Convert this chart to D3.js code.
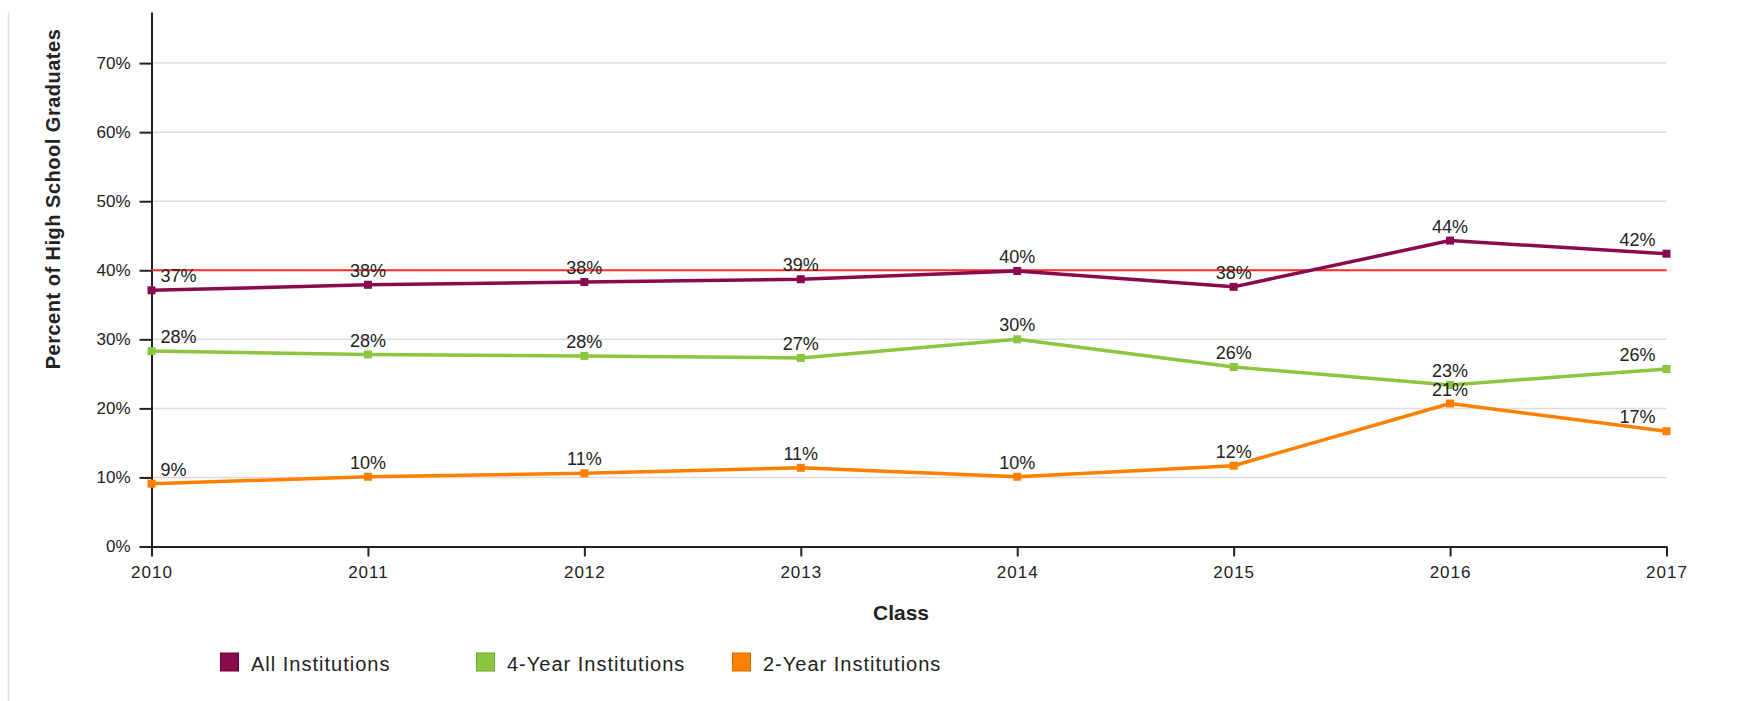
<!DOCTYPE html>
<html>
<head>
<meta charset="utf-8">
<script src="https://cdn.jsdelivr.net/npm/d3@7"></script>
<style>
body { margin: 0; background: #fff; }
text { font-family: "Liberation Sans", Arial, sans-serif; fill: #222; }
</style>
</head>
<body>
<script>
// Class years
const years = ["2010", "2011", "2012", "2013", "2014", "2015", "2016", "2017"];

// Percent of high school graduates
const allInst = [37.1, 37.9, 38.3, 38.7, 39.9, 37.6, 44.3, 42.4];
const fourYear = [28.3, 27.8, 27.6, 27.3, 30.0, 26.0, 23.4, 25.7];
const twoYear = [9.1, 10.1, 10.6, 11.4, 10.1, 11.7, 20.7, 16.7];

const seriesNames = ["All Institutions", "4-Year Institutions", "2-Year Institutions"];
const seriesColors = ["#8a0a4f", "#8cc63f", "#ff8000"];
const seriesBorders = ["#6a0038", "#6fa52c", "#d96a00"];

// reference line
const targetValue = 40;

const yTicks = [0, 10, 20, 30, 40, 50, 60, 70];

const width = 1748;
const height = 701;

const svg = d3.select("body")
.append("svg")
.attr("width", width)
.attr("height", height);

// light frame line on the left
svg.append("line")
.attr("x1", 8.5).attr("x2", 8.5)
.attr("y1", 12).attr("y2", height)
.attr("stroke", "#ddd")
.attr("stroke-width", 1.5);

const xScale = d3.scalePoint()
.domain(years)
.range([151.5, 1666.5]);

const yScale = d3.scaleLinear()
.domain([0, 77.4])
.range([546.5, 12]);

// gridlines
svg.append("g")
.selectAll("line")
.data(yTicks.filter(function(d){ return d > 0; }))
.enter()
.append("line")
.attr("x1", xScale.range()[0])
.attr("x2", xScale.range()[1])
.attr("y1", function(d){ return yScale(d); })
.attr("y2", function(d){ return yScale(d); })
.attr("stroke", "#dcdcdc")
.attr("stroke-width", 1.5);

// Y axis
const yAxis = d3.axisLeft(yScale)
.tickValues(yTicks)
.tickSize(12)
.tickSizeOuter(0)
.tickPadding(9)
.tickFormat(function(d){ return d + "%"; });

const gy = svg.append("g")
.attr("transform", "translate(" + xScale.range()[0] + ",0)")
.call(yAxis);
gy.selectAll("text").attr("font-size", "17px").attr("fill", "#222")
.attr("font-family", "Liberation Sans, Arial, sans-serif");
gy.selectAll("line, path").attr("stroke", "#222").attr("stroke-width", 2);

// X axis
const xAxis = d3.axisBottom(xScale)
.tickSize(10)
.tickSizeOuter(0)
.tickPadding(9);

const gx = svg.append("g")
.attr("transform", "translate(0," + yScale(0) + ")")
.call(xAxis);
gx.selectAll("text").attr("font-size", "17px").attr("fill", "#222")
.attr("letter-spacing", "1px")
.attr("font-family", "Liberation Sans, Arial, sans-serif");
gx.selectAll("line, path").attr("stroke", "#222").attr("stroke-width", 2);

// Axis titles
svg.append("text")
.attr("transform", "rotate(-90)")
.attr("x", -199)
.attr("y", 60)
.attr("text-anchor", "middle")
.attr("font-size", "20px")
.attr("letter-spacing", "0.5px")
.attr("font-weight", "bold")
.text("Percent of High School Graduates");

svg.append("text")
.attr("x", 901)
.attr("y", 620)
.attr("text-anchor", "middle")
.attr("font-size", "21px")
.attr("font-weight", "bold")
.text("Class");

// Target line
svg.append("line")
.attr("x1", xScale.range()[0])
.attr("x2", xScale.range()[1])
.attr("y1", yScale(targetValue))
.attr("y2", yScale(targetValue))
.attr("stroke", "#ff2a2a")
.attr("stroke-width", 2);

const series = [allInst, fourYear, twoYear];

const line = d3.line()
.x(function(d, i){ return xScale(years[i]); })
.y(function(d){ return yScale(d); });

series.forEach(function(values, s){
  svg.append("path")
  .datum(values)
  .attr("fill", "none")
  .attr("stroke", seriesColors[s])
  .attr("stroke-width", 3.5)
  .attr("stroke-linejoin", "round")
  .attr("d", line);

  svg.append("g")
  .selectAll("rect")
  .data(values)
  .enter()
  .append("rect")
  .attr("x", function(d, i){ return xScale(years[i]) - 4; })
  .attr("y", function(d){ return yScale(d) - 4; })
  .attr("width", 8)
  .attr("height", 8)
  .attr("fill", seriesColors[s]);
});

// Data labels
series.forEach(function(values, s){
  svg.append("g")
  .selectAll("text")
  .data(values)
  .enter()
  .append("text")
  .attr("x", function(d, i){
    const x = xScale(years[i]);
    if (i === 0) return x + 9;
    if (i === years.length - 1) return x - 11;
    return x;
  })
  .attr("y", function(d){ return yScale(d) - 8; })
  .attr("text-anchor", function(d, i){
    if (i === 0) return "start";
    if (i === years.length - 1) return "end";
    return "middle";
  })
  .attr("font-size", "18px")
  .text(function(d){ return Math.round(d) + "%"; });
});

// Legend
const legendX = [220, 476, 732];
const legend = svg.append("g");

legend.selectAll("rect")
.data(seriesNames)
.enter()
.append("rect")
.attr("x", function(d, i){ return legendX[i] + 0.5; })
.attr("y", 653)
.attr("width", 18)
.attr("height", 18)
.attr("fill", function(d, i){ return seriesColors[i]; })
.attr("stroke", function(d, i){ return seriesBorders[i]; })
.attr("stroke-width", 1);

legend.selectAll("text")
.data(seriesNames)
.enter()
.append("text")
.attr("x", function(d, i){ return legendX[i] + 31; })
.attr("y", 670.5)
.attr("font-size", "20px")
.attr("letter-spacing", "1px")
.text(function(d){ return d; });
</script>
</body>
</html>
